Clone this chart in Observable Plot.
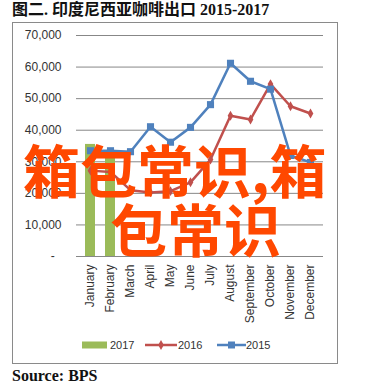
<!DOCTYPE html>
<html>
<head>
<meta charset="utf-8">
<script src="https://cdn.jsdelivr.net/npm/d3@7"></script>
<script src="https://cdn.jsdelivr.net/npm/@observablehq/plot@0.6"></script>
<style>
  html, body { margin: 0; padding: 0; background: #fff; }
  body { width: 389px; height: 388px; position: relative; overflow: hidden; }
  #title { position: absolute; left: 12px; top: 1px; font: bold 16px/18px "Liberation Serif", "Noto Sans CJK SC", serif; color: #111; white-space: nowrap; }
  #box { position: absolute; left: 12px; top: 22px; width: 326px; height: 342px; border: 1px solid #8a8a8a; box-sizing: border-box; }
  #chart { position: absolute; left: 13px; top: 23px; }
  #legend { position: absolute; left: 0; top: 335px; }
  #source { position: absolute; left: 12px; top: 367px; font: bold 16px/18px "Liberation Serif", serif; color: #111; white-space: nowrap; }
  .wm { position: absolute; font: bold 57px/57px "Noto Sans CJK SC", sans-serif; color: #ff4800; white-space: nowrap; pointer-events: none; }
</style>
</head>
<body>
<div id="title">图二. 印度尼西亚咖啡出口 2015-2017</div>
<div id="box"></div>
<div id="chart"></div>
<div id="legend"></div>
<div id="source">Source: BPS</div>
<div class="wm" style="left:23px; top:140px;">箱包常识,箱</div>
<div class="wm" style="left:110px; top:199px;">包常识</div>
<script>
const months = ["January","February","March","April","May","June","July","August","September","October","November","December"];
const exports2017 = [35500, 33500];
const exports2016 = [27200, 26800, 21000, 20300, 20700, 23500, 30700, 44600, 43400, 54600, 47600, 45300];
const exports2015 = [33500, 33500, 33200, 41100, 36200, 40900, 48100, 61200, 55500, 53000, 32000, 29800];
const yTicks = [0, 10000, 20000, 30000, 40000, 50000, 60000, 70000];
const seriesNames = ["2017", "2016", "2015"];
const colors = {"2017": "#9BBB59", "2016": "#C0504D", "2015": "#4F81BD"};

const bars = exports2017.map((v, i) => ({month: months[i], value: v}));
const line2016 = months.map((m, i) => ({month: m, value: exports2016[i]}));
const line2015 = months.map((m, i) => ({month: m, value: exports2015[i]}));

const fmt = d3.format(",");
const chart = Plot.plot({
  width: 324,
  height: 310,
  marginLeft: 63,
  marginRight: 14,
  marginTop: 12,
  marginBottom: 77,
  style: {fontFamily: "Liberation Sans, Arial, sans-serif", fontSize: "12px", color: "#333", background: "transparent", overflow: "visible"},
  x: {domain: months, paddingInner: 0.5, paddingOuter: 0.25, label: null},
  y: {domain: [0, 70000], label: null},
  marks: [
    Plot.gridY(yTicks, {stroke: "#878787", strokeOpacity: 1, strokeWidth: 1}),
    Plot.axisY(yTicks, {tickSize: 0, tickPadding: 15, tickFormat: d => d === 0 ? "-\u00a0\u00a0" : fmt(d), label: null, fontSize: 12}),
    Plot.axisX({tickSize: 0, tickRotate: -90, tickPadding: 8, label: null, fontSize: 12}),
    Plot.barY(bars, {x: "month", y: "value", fill: colors["2017"]}),
    Plot.lineY(line2016, {x: "month", y: "value", stroke: colors["2016"], strokeWidth: 2.5}),
    Plot.dot(line2016, {x: "month", y: "value", symbol: "diamond", r: 3, fill: colors["2016"]}),
    Plot.lineY(line2015, {x: "month", y: "value", stroke: colors["2015"], strokeWidth: 2.5}),
    Plot.dot(line2015, {x: "month", y: "value", symbol: "square", r: 4, fill: colors["2015"]})
  ]
});
document.getElementById("chart").appendChild(chart);

// legend
const lg = d3.select("#legend").append("svg").attr("width", 389).attr("height", 20)
  .style("font-family", "Liberation Sans, Arial, sans-serif").style("font-size", "11px");
const g17 = lg.append("g");
g17.append("rect").attr("x", 82).attr("y", 6.5).attr("width", 25).attr("height", 7).attr("fill", colors["2017"]);
g17.append("text").attr("x", 110).attr("y", 14).attr("fill", "#333").text(seriesNames[0]);
const g16 = lg.append("g");
g16.append("line").attr("x1", 145).attr("x2", 177).attr("y1", 10).attr("y2", 10).attr("stroke", colors["2016"]).attr("stroke-width", 2.5);
g16.append("path").attr("d", d3.symbol(d3.symbolDiamond, 28)()).attr("transform", "translate(161,10)").attr("fill", colors["2016"]);
g16.append("text").attr("x", 178).attr("y", 14).attr("fill", "#333").text(seriesNames[1]);
const g15 = lg.append("g");
g15.append("line").attr("x1", 217).attr("x2", 246).attr("y1", 10).attr("y2", 10).attr("stroke", colors["2015"]).attr("stroke-width", 2.5);
g15.append("rect").attr("x", 228).attr("y", 6.5).attr("width", 7).attr("height", 7).attr("fill", colors["2015"]);
g15.append("text").attr("x", 246).attr("y", 14).attr("fill", "#333").text(seriesNames[2]);
</script>
</body>
</html>
